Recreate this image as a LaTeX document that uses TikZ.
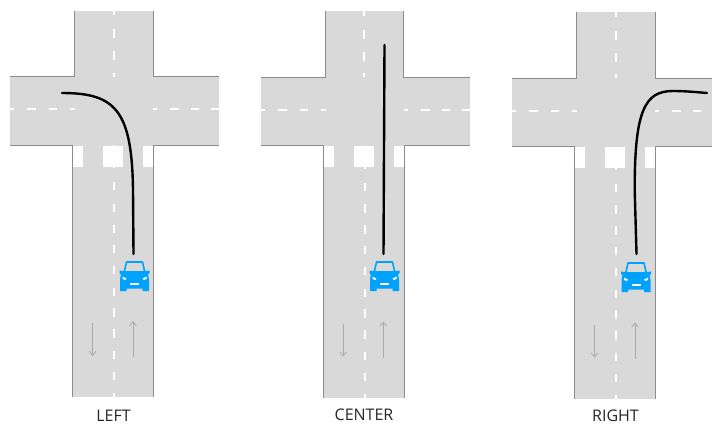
\documentclass[tikz,border=0pt]{standalone}
\usepackage{fontspec}
\setmainfont{Open Sans}
\usetikzlibrary{arrows.meta}
\definecolor{roadcol}{RGB}{217,217,217}
\definecolor{edgecol}{RGB}{140,140,140}
\definecolor{carcol}{RGB}{0,162,255}
\definecolor{flowcol}{RGB}{170,170,170}
\tikzset{
  road/.style={fill=roadcol, draw=none},
  kerb/.style={draw=edgecol, line width=.6pt},
  dashline/.style={draw=white, line width=1.5pt},
  crossing/.style={fill=white, draw=none},
  route/.style={draw=black, line width=1.8pt, line cap=round},
  flow/.style={draw=flowcol, line width=.6pt, -{Straight Barb[length=3pt,width=5pt]}},
  lab/.style={font=\fontsize{12}{14}\selectfont, text=black!85, inner sep=0pt},
  car/.pic={
    \draw[carcol, line width=1.2pt, line join=round] (-10.5,-3) -- (-8,-14) -- (8,-14) -- (10.5,-3);
    \fill[carcol] (-15,-5.5) -- (-11,-5) -- (11,-5) -- (15,-5.5) -- (15,-3) -- (13.5,-1.5)
      -- (14.5,3) -- (14.5,15) -- (8,15) -- (8,12.5) -- (-8,12.5) -- (-8,15) -- (-14.5,15)
      -- (-14.5,3) -- (-13.5,-1.5) -- (-15,-3) -- cycle;
    \fill[white] (-12,.5) -- (-8,2.5) -- (-9,4) -- (-12,3) -- cycle;
    \fill[white] (12,.5) -- (8,2.5) -- (9,4) -- (12,3) -- cycle;
    \fill[white] (-4.5,6.5) rectangle (4.5,9);
  },
}

\begin{document}
\begin{tikzpicture}[x=.75pt,y=-.75pt]
  \useasboundingbox (0,0) rectangle (712,426);
  \clip (0,0) rectangle (712,426);
  \foreach \ox/\oy/\name/\ny in {0/0/LEFT/416,250.5/.5/CENTER/414,502/1.5/RIGHT/414.5} {
    \begin{scope}[shift={(\ox,\oy)}]
      % the road
      \fill[road] (74.5,10.5) rectangle (153,77);
      \fill[road] (10,76.5) rectangle (219,145);
      \fill[road] (72.5,145) rectangle (153.5,397);
      \draw[kerb] (74.5,10.5) -- (74.5,76.5) -- (10,76.5);
      \draw[kerb] (153,10.5) -- (153,76.5) -- (219,76.5);
      \draw[kerb] (10,145) -- (72.5,145) -- (72.5,397);
      \draw[kerb] (219,145) -- (153.5,145) -- (153.5,397);
      % crossing
      \fill[crossing] (73,145.5) rectangle (83,166.5);
      \fill[crossing] (103,145.5) rectangle (123,166.5);
      \fill[crossing] (143,145.5) rectangle (153,166.5);
      % centre lines
      \foreach \a/\b in {10.5/15,29/38,51/60,72.5/76.5}
        \draw[dashline] (113.5,\a) -- (113.5,\b);
      \foreach \a/\b in {145/148,163/168,182/190,203.5/212,224.5/233,245/253,266/274,288/296,308/317,329/338,351/359,372/380,393/397}
        \draw[dashline] (114,\a) -- (114,\b);
      \foreach \a/\b in {10/14,27/36,49/57,70/75,153/157,170/179,191/199,211/219}
        \draw[dashline] (\a,109) -- (\b,109);
      % lanes
      \draw[flow] (92.5,323) -- (92.5,356);
      \draw[flow] (133,357) -- (133,321);
      \node[lab] (\name) at (113.5,\ny) {\name};
    \end{scope}
  }
  \draw[route] (133.5,254) -- (133,190) .. controls (132,110) and (115,93) .. (62,93);
  \draw[route] (383.5,254) -- (384.5,45);
  \draw[route] (636.5,254) -- (634.7,190) .. controls (634.5,110) and (645,91) .. (673,91)
    .. controls (685,91) and (695,92) .. (707,93);
  \pic at (134.5,276) {car};
  \pic at (384.5,276) {car};
  \pic at (636,277) {car};
\end{tikzpicture}
\end{document}
